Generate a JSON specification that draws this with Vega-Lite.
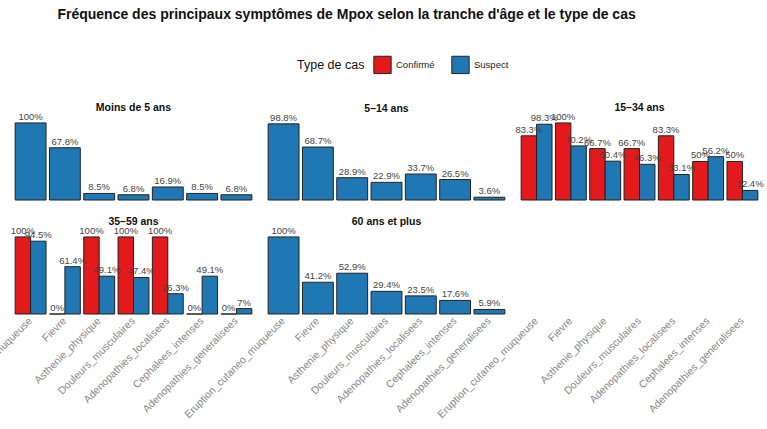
{
  "$schema": "https://vega.github.io/schema/vega-lite/v6.json",
  "padding": {"left": -71, "top": 8, "right": 2, "bottom": 2},
  "background": "white",
  "title": {"text": "Fréquence des principaux symptômes de Mpox selon la tranche d'âge et le type de cas", "anchor": "middle", "fontSize": 14, "fontWeight": "bold", "font": "Liberation Sans", "color": "#111", "offset": 33},
  "data": {"values": [
    {"age": "Moins de 5 ans", "symptome": "Eruption_cutaneo_muqueuse", "type": "Suspect", "pct": 100},
    {"age": "Moins de 5 ans", "symptome": "Fievre", "type": "Suspect", "pct": 67.8},
    {"age": "Moins de 5 ans", "symptome": "Asthenie_physique", "type": "Suspect", "pct": 8.5},
    {"age": "Moins de 5 ans", "symptome": "Douleurs_musculaires", "type": "Suspect", "pct": 6.8},
    {"age": "Moins de 5 ans", "symptome": "Adenopathies_localisees", "type": "Suspect", "pct": 16.9},
    {"age": "Moins de 5 ans", "symptome": "Cephalees_intenses", "type": "Suspect", "pct": 8.5},
    {"age": "Moins de 5 ans", "symptome": "Adenopathies_generalisees", "type": "Suspect", "pct": 6.8},
    {"age": "5–14 ans", "symptome": "Eruption_cutaneo_muqueuse", "type": "Suspect", "pct": 98.8},
    {"age": "5–14 ans", "symptome": "Fievre", "type": "Suspect", "pct": 68.7},
    {"age": "5–14 ans", "symptome": "Asthenie_physique", "type": "Suspect", "pct": 28.9},
    {"age": "5–14 ans", "symptome": "Douleurs_musculaires", "type": "Suspect", "pct": 22.9},
    {"age": "5–14 ans", "symptome": "Adenopathies_localisees", "type": "Suspect", "pct": 33.7},
    {"age": "5–14 ans", "symptome": "Cephalees_intenses", "type": "Suspect", "pct": 26.5},
    {"age": "5–14 ans", "symptome": "Adenopathies_generalisees", "type": "Suspect", "pct": 3.6},
    {"age": "15–34 ans", "symptome": "Eruption_cutaneo_muqueuse", "type": "Confirmé", "pct": 83.3},
    {"age": "15–34 ans", "symptome": "Fievre", "type": "Confirmé", "pct": 100},
    {"age": "15–34 ans", "symptome": "Asthenie_physique", "type": "Confirmé", "pct": 66.7},
    {"age": "15–34 ans", "symptome": "Douleurs_musculaires", "type": "Confirmé", "pct": 66.7},
    {"age": "15–34 ans", "symptome": "Adenopathies_localisees", "type": "Confirmé", "pct": 83.3},
    {"age": "15–34 ans", "symptome": "Cephalees_intenses", "type": "Confirmé", "pct": 50},
    {"age": "15–34 ans", "symptome": "Adenopathies_generalisees", "type": "Confirmé", "pct": 50},
    {"age": "15–34 ans", "symptome": "Eruption_cutaneo_muqueuse", "type": "Suspect", "pct": 98.3},
    {"age": "15–34 ans", "symptome": "Fievre", "type": "Suspect", "pct": 70.2},
    {"age": "15–34 ans", "symptome": "Asthenie_physique", "type": "Suspect", "pct": 50.4},
    {"age": "15–34 ans", "symptome": "Douleurs_musculaires", "type": "Suspect", "pct": 46.3},
    {"age": "15–34 ans", "symptome": "Adenopathies_localisees", "type": "Suspect", "pct": 33.1},
    {"age": "15–34 ans", "symptome": "Cephalees_intenses", "type": "Suspect", "pct": 56.2},
    {"age": "15–34 ans", "symptome": "Adenopathies_generalisees", "type": "Suspect", "pct": 12.4},
    {"age": "35–59 ans", "symptome": "Eruption_cutaneo_muqueuse", "type": "Confirmé", "pct": 100},
    {"age": "35–59 ans", "symptome": "Fievre", "type": "Confirmé", "pct": 0},
    {"age": "35–59 ans", "symptome": "Asthenie_physique", "type": "Confirmé", "pct": 100},
    {"age": "35–59 ans", "symptome": "Douleurs_musculaires", "type": "Confirmé", "pct": 100},
    {"age": "35–59 ans", "symptome": "Adenopathies_localisees", "type": "Confirmé", "pct": 100},
    {"age": "35–59 ans", "symptome": "Cephalees_intenses", "type": "Confirmé", "pct": 0},
    {"age": "35–59 ans", "symptome": "Adenopathies_generalisees", "type": "Confirmé", "pct": 0},
    {"age": "35–59 ans", "symptome": "Eruption_cutaneo_muqueuse", "type": "Suspect", "pct": 94.5},
    {"age": "35–59 ans", "symptome": "Fievre", "type": "Suspect", "pct": 61.4},
    {"age": "35–59 ans", "symptome": "Asthenie_physique", "type": "Suspect", "pct": 49.1},
    {"age": "35–59 ans", "symptome": "Douleurs_musculaires", "type": "Suspect", "pct": 47.4},
    {"age": "35–59 ans", "symptome": "Adenopathies_localisees", "type": "Suspect", "pct": 26.3},
    {"age": "35–59 ans", "symptome": "Cephalees_intenses", "type": "Suspect", "pct": 49.1},
    {"age": "35–59 ans", "symptome": "Adenopathies_generalisees", "type": "Suspect", "pct": 7},
    {"age": "60 ans et plus", "symptome": "Eruption_cutaneo_muqueuse", "type": "Suspect", "pct": 100},
    {"age": "60 ans et plus", "symptome": "Fievre", "type": "Suspect", "pct": 41.2},
    {"age": "60 ans et plus", "symptome": "Asthenie_physique", "type": "Suspect", "pct": 52.9},
    {"age": "60 ans et plus", "symptome": "Douleurs_musculaires", "type": "Suspect", "pct": 29.4},
    {"age": "60 ans et plus", "symptome": "Adenopathies_localisees", "type": "Suspect", "pct": 23.5},
    {"age": "60 ans et plus", "symptome": "Cephalees_intenses", "type": "Suspect", "pct": 17.6},
    {"age": "60 ans et plus", "symptome": "Adenopathies_generalisees", "type": "Suspect", "pct": 5.9}
  ]},
  "transform": [
    {"calculate": "format(datum.pct, '.1~f') + '%'", "as": "label"},
    {"calculate": "indexof(['Moins de 5 ans','5–14 ans','60 ans et plus'], datum.age) >= 0", "as": "single"}
  ],
  "facet": {"field": "age", "type": "nominal", "sort": ["Moins de 5 ans", "5–14 ans", "15–34 ans", "35–59 ans", "60 ans et plus"],
    "header": {"title": null, "labelFontWeight": "bold", "labelFontSize": 10.5, "labelFont": "Liberation Sans", "labelColor": "#111", "labelPadding": -2}},
  "columns": 3,
  "spacing": {"column": 6, "row": 30},
  "bounds": "flush",
  "spec": {
    "width": 247,
    "height": 84,
    "encoding": {
      "x": {"field": "symptome", "type": "nominal",
        "sort": ["Eruption_cutaneo_muqueuse", "Fievre", "Asthenie_physique", "Douleurs_musculaires", "Adenopathies_localisees", "Cephalees_intenses", "Adenopathies_generalisees"],
        "scale": {"paddingInner": 0.1, "paddingOuter": 0.15},
        "axis": {"title": null, "labelAngle": -45, "labelAlign": "right", "labelBaseline": "middle", "ticks": false, "domain": false, "grid": false, "labelFontSize": 10.5, "labelFont": "Liberation Sans", "labelColor": "#888", "labelPadding": 5, "labelOverlap": false}},
      "y": {"field": "pct", "type": "quantitative", "scale": {"domain": [0, 109]}, "axis": null}
    },
    "layer": [
      {"transform": [{"filter": "datum.single"}],
       "mark": {"type": "bar", "stroke": "#222", "strokeWidth": 1},
       "encoding": {"color": {"field": "type", "type": "nominal", "scale": {"domain": ["Confirmé", "Suspect"], "range": ["#E3191C", "#1F78B4"]},
          "legend": {"title": "Type de cas", "orient": "none", "legendX": 287, "legendY": -61, "direction": "horizontal", "titleOrient": "left", "symbolType": "square", "symbolSize": 300, "symbolStrokeColor": "#222", "symbolStrokeWidth": 1, "labelFontSize": 9.5, "titleFontSize": 12.5, "titleFontWeight": "normal", "titleFont": "Liberation Sans", "labelFont": "Liberation Sans", "titleColor": "#111", "labelColor": "#222", "columnPadding": 14, "titlePadding": 8}}}},
      {"transform": [{"filter": "!datum.single"}],
       "mark": {"type": "bar", "stroke": "#222", "strokeWidth": 1},
       "encoding": {"xOffset": {"field": "type", "type": "nominal", "scale": {"domain": ["Confirmé", "Suspect"], "paddingInner": 0, "paddingOuter": 0}},
         "color": {"field": "type", "type": "nominal"}}},
      {"transform": [{"filter": "datum.single"}],
       "mark": {"type": "text", "dy": -6, "fontSize": 9.5, "font": "Liberation Sans", "color": "#444"},
       "encoding": {"text": {"field": "label"}}},
      {"transform": [{"filter": "!datum.single"}],
       "mark": {"type": "text", "dy": -6, "fontSize": 9.5, "font": "Liberation Sans", "color": "#444"},
       "encoding": {"xOffset": {"field": "type", "type": "nominal"}, "text": {"field": "label"}}}
    ]
  },
  "config": {"view": {"stroke": null}}
}
